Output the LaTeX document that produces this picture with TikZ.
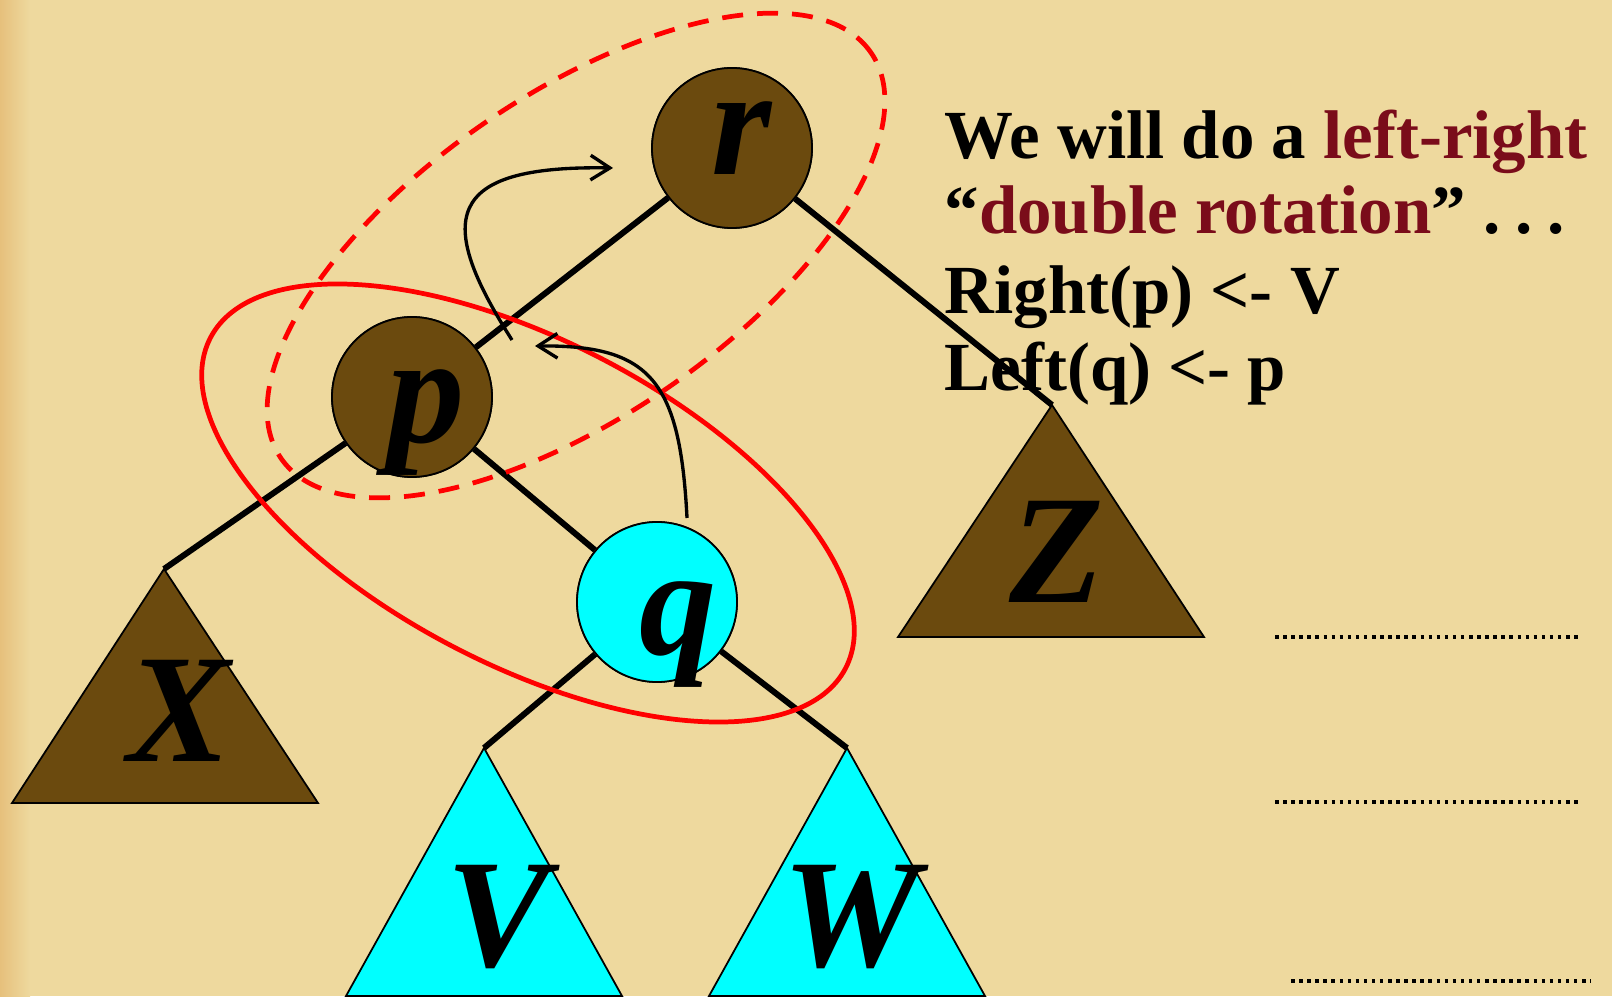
\documentclass[tikz,border=0pt]{standalone}
\usepackage{fontspec}
\setmainfont{Liberation Serif}
\usetikzlibrary{arrows.meta}

\definecolor{paper}{RGB}{238,217,158}
\definecolor{paperedge}{RGB}{230,192,124}
\definecolor{bark}{RGB}{107,74,14}
\definecolor{aqua}{RGB}{0,255,255}
\definecolor{wine}{RGB}{122,12,26}

\begin{document}
\begin{tikzpicture}[
  vertex/.style={circle, draw=black, line width=0.5pt, minimum size=1.6cm, inner sep=0pt},
  edge/.style={line width=1.7pt},
  subtree/.style={draw=black, line width=0.5pt},
  lettr/.style={anchor=base, inner sep=0pt, font=\fontsize{44}{44}\selectfont\bfseries\itshape},
  say/.style={anchor=base west, inner sep=0pt, font=\fontsize{19.6}{22}\selectfont\bfseries},
  loop/.style={red, line width=1.35pt},
  rot/.style={-{Straight Barb[length=5.5pt,width=7pt]}, line width=0.95pt},
  blank/.style={line width=1pt, dash pattern=on 1pt off 1.3pt},
]

\useasboundingbox (0,0) rectangle (16.12,9.96);
\fill[paper] (0,0) rectangle (16.12,9.96);
\shade[left color=paperedge, right color=paper] (0,0) rectangle (0.3,9.96);

% the explanation
\node[say] (say1) at (9.44,8.37) {We will do a \textcolor{wine}{left-right}};
\node[say] (say2) at (9.44,7.62) {“\textcolor{wine}{double rotation}”\kern0.25em.\kern0.22em.\kern0.22em.};
\node[say] (say3) at (9.44,6.82) {Right(p) <- V};
\node[say] (say4) at (9.44,6.05) {Left(q) <- p};

% the tree
\node[vertex, fill=bark] (r) at (7.32,8.48) {};
\node[vertex, fill=bark] (p) at (4.12,5.99) {};
\node[vertex, fill=aqua] (q) at (6.57,3.94) {};

\coordinate (Xtop) at (1.64,4.27);
\coordinate (Ztop) at (10.52,5.91);
\coordinate (Vtop) at (4.84,2.48);
\coordinate (Wtop) at (8.47,2.48);

\draw[edge] (r) -- (p);
\draw[edge] (r) -- (Ztop);
\draw[edge] (p) -- (Xtop);
\draw[edge] (p) -- (q);
\draw[edge] (q) -- (Vtop);
\draw[edge] (q) -- (Wtop);

\filldraw[subtree, fill=bark] (Xtop) -- (0.12,1.93) -- (3.18,1.93) -- cycle;
\filldraw[subtree, fill=bark] (Ztop) -- (8.98,3.59) -- (12.04,3.59) -- cycle;
\filldraw[subtree, fill=aqua] (Vtop) -- (3.46,0) -- (6.22,0) -- cycle;
\filldraw[subtree, fill=aqua] (Wtop) -- (7.09,0) -- (9.85,0) -- cycle;

\node[vertex, fill=bark] at (r) {};
\node[vertex, fill=bark] at (p) {};
\node[vertex, fill=aqua] at (q) {};

\node[lettr] (rl) at (7.42,8.21) {r};
\node[lettr] (pl) at (4.26,5.53) {p};
\node[lettr] (ql) at (6.78,3.41) {q};
\node[lettr] (X) at (1.79,2.35) {X};
\node[lettr] (Z) at (10.57,3.93) {Z};
\node[lettr] (V) at (4.98,0.30) {V};
\node[lettr] (W) at (8.51,0.30) {W};

% rings
\draw[loop, rotate around={-27.5:(5.28,4.93)}] (5.28,4.93) ellipse (3.58 and 1.62);
\draw[loop, dash pattern=on 0.21cm off 0.14cm, rotate around={34.5:(5.76,7.405)}]
  (5.76,7.405) ellipse (3.58 and 1.61);

% rotations
\coordinate (up1) at (5.12,6.56);
\coordinate (up2) at (6.13,8.28);
\draw[rot] (up1) .. controls (4.36,7.75) and (4.42,8.31) .. (up2);
\coordinate (back1) at (6.87,4.78);
\coordinate (back2) at (5.35,6.50);
\draw[rot] (back1) .. controls (6.80,6.16) and (6.50,6.51) .. (back2);

% blanks
\draw[blank] (12.75,3.59) -- (15.81,3.59);
\draw[blank] (12.75,1.94) -- (15.81,1.94);
\draw[blank] (12.91,0.15) -- (15.91,0.15);

\end{tikzpicture}
\end{document}
